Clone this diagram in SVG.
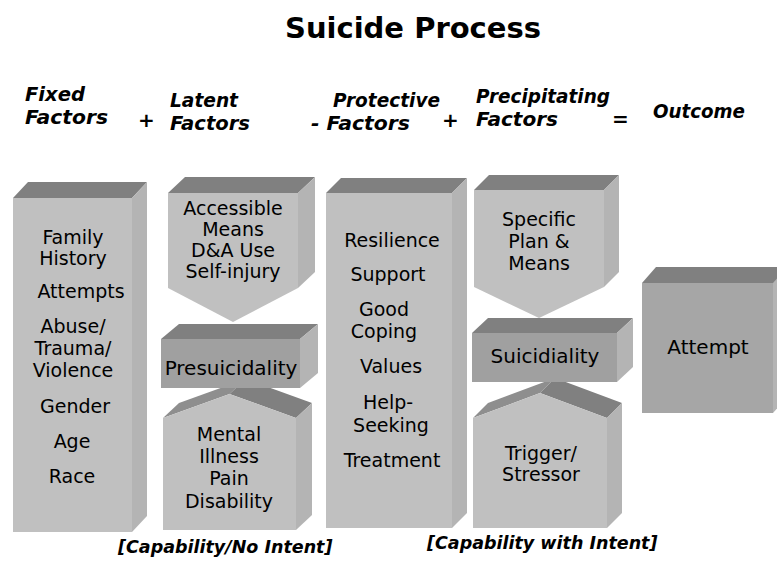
<svg xmlns="http://www.w3.org/2000/svg" width="777" height="574" viewBox="0 0 777 574">
<style>
.front{fill:#c0c0c0}
.front2{fill:#a0a0a0}
.front3{fill:#a6a6a6}
.top{fill:#808080}
.roof{fill:#8e8e8e}
.side{fill:#b4b4b4}
.t{font-family:"DejaVu Sans",sans-serif;font-size:19px;fill:#000;text-anchor:middle}
.s{font-size:20px}
.h{font-family:"DejaVu Sans",sans-serif;font-size:20px;font-weight:bold;font-style:italic;fill:#000}
.title{font-family:"DejaVu Sans",sans-serif;font-size:29px;font-weight:bold;fill:#000;text-anchor:middle}
.foot{font-family:"DejaVu Sans",sans-serif;font-size:17.5px;font-weight:bold;font-style:italic;fill:#000}
</style>
<rect width="777" height="574" fill="#fff"/>
<text class="title" x="413" y="38">Suicide Process</text>
<g id="header">
<text class="h" x="25" y="101" textLength="60" lengthAdjust="spacingAndGlyphs">Fixed</text>
<text class="h" x="25" y="124" textLength="83" lengthAdjust="spacingAndGlyphs">Factors</text>
<text class="h" x="138" y="127" font-size="16">+</text>
<text class="h" x="170" y="107" textLength="68" lengthAdjust="spacingAndGlyphs">Latent</text>
<text class="h" x="170" y="130" textLength="80" lengthAdjust="spacingAndGlyphs">Factors</text>
<text class="h" x="333" y="107" textLength="107" lengthAdjust="spacingAndGlyphs">Protective</text>
<text class="h" x="311" y="130" textLength="99" lengthAdjust="spacingAndGlyphs">- Factors</text>
<text class="h" x="442" y="127" font-size="16">+</text>
<text class="h" x="476" y="103" textLength="134" lengthAdjust="spacingAndGlyphs">Precipitating</text>
<text class="h" x="476" y="126" textLength="82" lengthAdjust="spacingAndGlyphs">Factors</text>
<text class="h" x="612" y="126" font-size="16">=</text>
<text class="h" x="653" y="118" textLength="92" lengthAdjust="spacingAndGlyphs">Outcome</text>
</g>
<g id="connectors"/>
<g id="fixed">
<polygon class="top" points="13,198 28,182 147,182 132,198"/>
<polygon class="side" points="132,198 147,182 147,516 132,532"/>
<rect class="front" x="13" y="198" width="119" height="334"/>
<text class="t" x="73" y="244">Family</text>
<text class="t" x="73" y="265">History</text>
<text class="t" x="81" y="298">Attempts</text>
<text class="t" x="73" y="333">Abuse/</text>
<text class="t" x="73" y="355">Trauma/</text>
<text class="t" x="73" y="377">Violence</text>
<text class="t" x="75" y="413">Gender</text>
<text class="t" x="72" y="448">Age</text>
<text class="t" x="72" y="483">Race</text>
</g>
<g id="mental">
<polygon class="roof" points="163,418 229.5,394 245.5,379 179,403"/>
<polygon class="top" points="229.5,394 296,418 312,403 245.5,379"/>
<polygon class="side" points="296,418 312,403 312,515 296,530"/>
<polygon class="front" points="163,418 229.5,394 296,418 296,530 163,530"/>
<text class="t" x="229" y="441">Mental</text>
<text class="t" x="229" y="463">Illness</text>
<text class="t" x="229" y="485">Pain</text>
<text class="t" x="229" y="508">Disability</text>
</g>
<g id="presuicidality">
<polygon class="top" points="161,339 179,324 318,324 300,339"/>
<polygon class="side" points="300,339 318,324 318,373 300,388"/>
<rect class="front2" x="161" y="339" width="139" height="49"/>
<text class="t s" x="231" y="375">Presuicidality</text>
</g>
<g id="accessible">
<polygon class="top" points="168,193 185,177 315,177 298,193"/>
<polygon class="side" points="298,193 315,177 315,272 298,288"/>
<polygon class="front" points="168,193 298,193 298,288 233,322 168,288"/>
<text class="t" x="233" y="215">Accessible</text>
<text class="t" x="233" y="236">Means</text>
<text class="t" x="233" y="257">D&amp;A Use</text>
<text class="t" x="233" y="278">Self-injury</text>
</g>
<g id="protective">
<polygon class="top" points="326,193 341,178 467,178 452,193"/>
<polygon class="side" points="452,193 467,178 467,513 452,528"/>
<rect class="front" x="326" y="193" width="126" height="335"/>
<text class="t" x="392" y="247">Resilience</text>
<text class="t" x="388" y="281">Support</text>
<text class="t" x="384" y="316">Good</text>
<text class="t" x="384" y="338">Coping</text>
<text class="t" x="391" y="373">Values</text>
<text class="t" x="388" y="409">Help-</text>
<text class="t" x="391" y="432">Seeking</text>
<text class="t" x="392" y="467">Treatment</text>
</g>
<g id="trigger">
<polygon class="roof" points="473,418 540,393 555,378 488,403"/>
<polygon class="top" points="540,393 607,418 622,403 555,378"/>
<polygon class="side" points="607,418 622,403 622,513 607,528"/>
<polygon class="front" points="473,418 540,393 607,418 607,528 473,528"/>
<text class="t" x="541" y="460">Trigger/</text>
<text class="t" x="541" y="481">Stressor</text>
</g>
<g id="suicidiality">
<polygon class="top" points="472,333 488,318 633,318 617,333"/>
<polygon class="side" points="617,333 633,318 633,367 617,382"/>
<rect class="front2" x="472" y="333" width="145" height="49"/>
<text class="t s" x="545" y="363">Suicidiality</text>
</g>
<g id="specific">
<polygon class="top" points="474,190 489,175 619,175 604,190"/>
<polygon class="side" points="604,190 619,175 619,272 604,287"/>
<polygon class="front" points="474,190 604,190 604,287 539,318 474,287"/>
<text class="t" x="539" y="226">Specific</text>
<text class="t" x="539" y="248">Plan &amp;</text>
<text class="t" x="539" y="270">Means</text>
</g>
<g id="attempt">
<polygon class="top" points="642,283 656,267 790,267 776,283"/>
<polygon class="side" points="773,283 787,267 787,397 773,413"/>
<rect class="front3" x="642" y="283" width="131" height="130"/>
<text class="t s" x="708" y="354">Attempt</text>
</g>
<text class="foot" x="118" y="553">[Capability/No Intent]</text>
<text class="foot" x="427" y="549">[Capability with Intent]</text>
</svg>
